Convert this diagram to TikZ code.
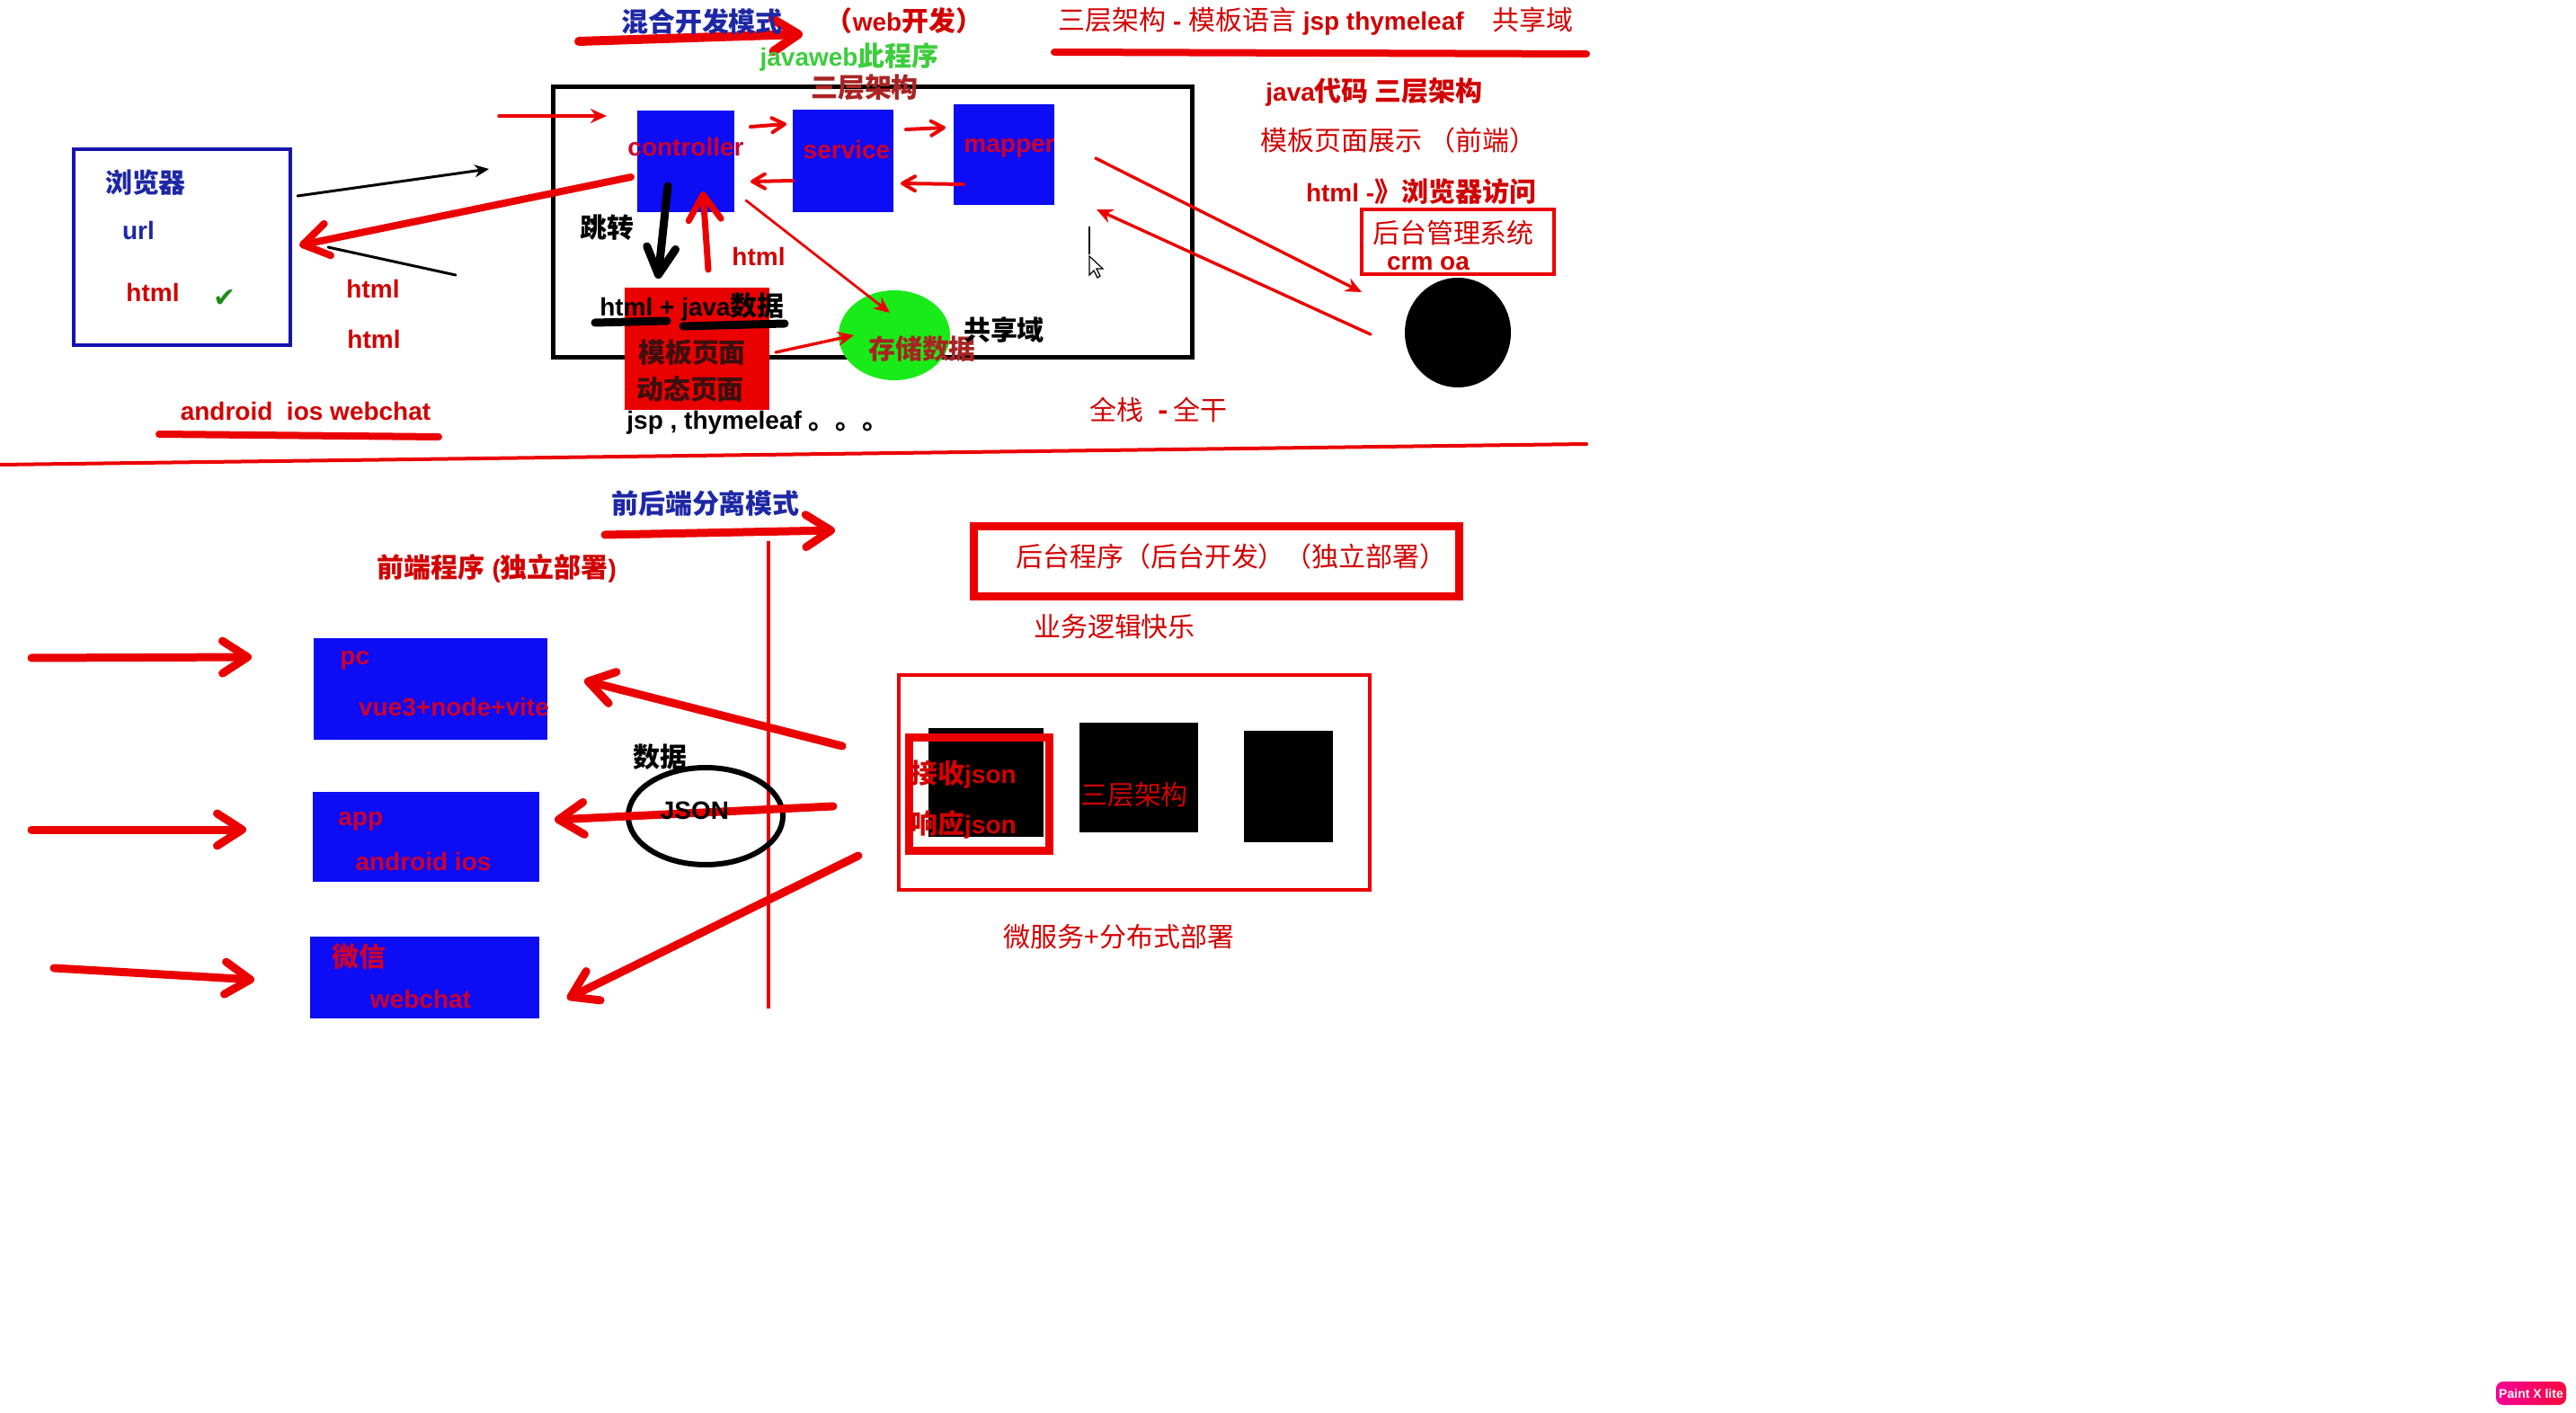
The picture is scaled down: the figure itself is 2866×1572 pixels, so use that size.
\documentclass[tikz,border=0pt]{standalone}
\usepackage{fontspec}
\setmainfont{Liberation Sans}
\newfontfamily\zh{Noto Sans CJK SC}[Scale=1.07]
\newfontfamily\symfont{DejaVu Sans}
\usetikzlibrary{arrows.meta, positioning, shapes.geometric, fit, calc}
\definecolor{penRed}{RGB}{235,0,0}
\definecolor{inkRed}{RGB}{210,0,0}
\definecolor{crimson}{RGB}{205,0,45}
\definecolor{rustRed}{RGB}{170,35,35}
\definecolor{paintBlue}{RGB}{12,12,245}
\definecolor{navyInk}{RGB}{30,40,165}
\definecolor{frameBlue}{RGB}{20,20,175}
\definecolor{limeFill}{RGB}{25,235,25}
\definecolor{leafInk}{RGB}{60,205,60}
\definecolor{tickGreen}{RGB}{30,140,30}
\definecolor{darkInk}{RGB}{60,15,15}
\definecolor{badgePink}{RGB}{245,0,150}
\definecolor{badgeRed}{RGB}{250,10,60}
\tikzset{
  hand/.style={line cap=round, line join=round},
  zhtext/.style={font=\zh\fontsize{14}{17}\selectfont, inner sep=0pt},
  zhbold/.style={font=\zh\bfseries\fontsize{14}{17}\selectfont, inner sep=0pt},
  entext/.style={font=\bfseries\fontsize{14}{17}\selectfont, inner sep=0pt},
  paintbox/.style={fill=paintBlue, inner sep=0pt},
  inkbox/.style={fill=black, inner sep=0pt},
  fatarrow/.style={hand, draw=penRed, line width=4.5pt, -{Straight Barb[length=14pt, width=18pt, round]}},
  midarrow/.style={hand, draw=penRed, line width=2pt, -{Straight Barb[length=7pt, width=8pt, round]}},
  thinarrow/.style={hand, draw=penRed, line width=1.7pt, -{Stealth[length=9pt, width=8pt]}},
}

\begin{document}
\begin{tikzpicture}[x=0.5pt, y=-0.5pt]
  \fill[white] (0,0) rectangle (2866,1572);
  \useasboundingbox (0,0) rectangle (2866,1572);

  \coordinate (divL) at (0,517);
  \coordinate (divR) at (1765,494);
  \draw[hand, penRed, line width=2pt] (divL) -- (divR);
  \coordinate (ulTitleL) at (1173,58);
  \coordinate (ulTitleR) at (1765,60);
  \draw[hand, penRed, line width=4pt] (ulTitleL) -- (ulTitleR);
  \coordinate (ulAndL) at (177,483);
  \coordinate (ulAndR) at (488,486);
  \draw[hand, penRed, line width=4pt] (ulAndL) -- (ulAndR);

  \node[draw=black, line width=2.5pt, inner sep=0pt, fit={(615,97) (1326,398)}] (mvcframe) {};
  \node[draw=frameBlue, line width=2pt, inner sep=0pt, fit={(82,166) (323,384)}] (browser) {};
  \node[paintbox, fit={(709,123) (817,236)}] (ctrl) {};
  \node[paintbox, fit={(882,122) (994,236)}] (svc) {};
  \node[paintbox, fit={(1061,116) (1173,228)}] (mapper) {};
  \node[fill=penRed, inner sep=0pt, fit={(695,320) (856,456)}] (tplpage) {};
  \node[ellipse, fill=limeFill, minimum width=62pt, minimum height=50pt, inner sep=0pt] (store) at (995,373) {};
  \node[ellipse, fill=black, minimum width=59pt, minimum height=61pt, inner sep=0pt] (dbdot) at (1622,370) {};
  \node[draw=penRed, line width=2pt, inner sep=0pt, fit={(1515,233) (1729,305)}] (mgmt) {};

  \coordinate (mixA) at (644,46);
  \coordinate (mixB) at (893,38);
  \draw[fatarrow, line width=5pt] (mixA) -- (mixB);
  \coordinate (reqA) at (331,218);
  \coordinate (reqB) at (544,188);
  \draw[hand, line width=1.5pt, -{Stealth[length=8pt, width=7pt]}] (reqA) -- (reqB);
  \coordinate (retA) at (365,275);
  \coordinate (retB) at (507,306);
  \draw[hand, line width=1.5pt] (retA) -- (retB);
  \coordinate (backA) at (702,197);
  \coordinate (backB) at (333,273);
  \draw[fatarrow, line width=4pt] (backA) -- (backB);
  \coordinate (inA) at (555,129);
  \coordinate (inB) at (675,129);
  \draw[thinarrow] (inA) -- (inB);

  \coordinate (cs1) at (835,141);
  \coordinate (cs2) at (875,138);
  \coordinate (sm1) at (1008,144);
  \coordinate (sm2) at (1052,142);
  \coordinate (sc1) at (882,201);
  \coordinate (sc2) at (835,202);
  \coordinate (ms1) at (1072,205);
  \coordinate (ms2) at (1002,204);
  \draw[midarrow] (cs1) -- (cs2);
  \draw[midarrow] (sm1) -- (sm2);
  \draw[midarrow] (sc1) -- (sc2);
  \draw[midarrow] (ms1) -- (ms2);

  \coordinate (jumpA) at (743,207);
  \coordinate (jumpB) at (732,310);
  \draw[hand, line width=4.5pt, -{Straight Barb[length=15pt, width=16pt, round]}] (jumpA) -- (jumpB);
  \coordinate (upA) at (788,300);
  \coordinate (upB) at (782,213);
  \draw[fatarrow, line width=3.5pt] (upA) -- (upB);
  \coordinate (saveA) at (830,223);
  \coordinate (saveB) at (990,348);
  \draw[thinarrow, line width=1.4pt] (saveA) -- (saveB);
  \coordinate (tplOut) at (863,392);
  \coordinate (storeIn) at (950,373);
  \draw[thinarrow] (tplOut) -- (storeIn);
  \coordinate (goA) at (1219,176);
  \coordinate (goB) at (1515,325);
  \draw[thinarrow] (goA) -- (goB);
  \coordinate (comeA) at (1525,372);
  \coordinate (comeB) at (1220,233);
  \draw[thinarrow] (comeA) -- (comeB);

  \draw[hand, line width=4.5pt] (662,359) -- (742,357);
  \draw[hand, line width=4.5pt] (760,363) -- (873,360);

  \draw[line width=0.8pt] (1212,252) -- (1212,283);
  \draw[fill=white, line width=0.6pt] (1212,285) -- (1212,306) -- (1217,301) -- (1221,309) -- (1224,307) -- (1220,299) -- (1227,299) -- cycle;

  \node[zhbold, text=navyInk] (mixTitle) at (781,24) {混合开发模式};
  \node[entext, text=inkRed] (webDev) at (1006,23) {{\zh （}web{\zh 开发）}};
  \node[entext, text=leafInk] (jwProg) at (945,63) {javaweb{\zh 此程序}};
  \node[zhbold, text=rustRed] (tierTop) at (962,97) {三层架构};
  \node[entext, text=inkRed] (tierTitle) at (1464,24) {{\zh\mdseries 三层架构} - {\zh\mdseries 模板语言} jsp thymeleaf\hspace{16pt}{\zh\mdseries 共享域}};
  \node[entext, text=inkRed] (javaCode) at (1529,103) {java{\zh 代码 三层架构}};
  \node[zhtext, text=inkRed] (tplShow) at (1556,156) {模板页面展示 （前端）};
  \node[entext, text=inkRed] (htmlVisit) at (1581,213) {html -{\zh 》浏览器访问}};
  \node[zhtext, text=inkRed] (mgmtName) at (1617,259) {后台管理系统};
  \node[entext, text=inkRed] (crmOa) at (1589,293) {crm oa};
  \node[zhtext, text=inkRed] (fullStack) at (1289,456) {全栈\hspace{8pt}{\bfseries -}\hspace{3pt}全干};

  \node[zhbold, text=navyInk] (browserName) at (162,203) {浏览器};
  \node[entext, text=navyInk] (urlTxt) at (154,256) {url};
  \node[entext, text=inkRed] (htmlIn) at (170,325) {html};
  \node[font=\symfont\fontsize{15}{18}\selectfont, text=tickGreen, inner sep=0pt] (tick) at (250,332) {✔};
  \node[entext, text=inkRed] (htmlA) at (415,321) {html};
  \node[entext, text=inkRed] (htmlB) at (416,377) {html};
  \node[entext, text=inkRed] (clients) at (340,457) {android\ \ ios webchat};

  \node[entext, text=crimson] (ctrlTxt) at (763,163) {controller};
  \node[entext, text=crimson] (svcTxt) at (942,166) {service};
  \node[entext, text=crimson] (mapperTxt) at (1123,165) {mapper};
  \node[zhbold, text=black] (jump) at (675,253) {跳转};
  \node[entext, text=inkRed] (htmlUp) at (844,285) {html};
  \node[entext, text=black] (mixData) at (770,342) {html + java{\zh 数据}};
  \node[zhbold, text=darkInk] (tplA) at (770,392) {模板页面};
  \node[zhbold, text=darkInk] (tplB) at (768,433) {动态页面};
  \node[entext, text=black, anchor=west] (engines) at (697,470) {jsp , thymeleaf {\zh 。。。}};
  \node[zhbold, text=rustRed] (storeTxt) at (1026,388) {存储数据};
  \node[zhbold, text=black] (shareTxt) at (1117,367) {共享域};

  \coordinate (sepA) at (673,595);
  \coordinate (sepB) at (929,590);
  \draw[fatarrow] (sepA) -- (sepB);
  \coordinate (wallTop) at (855,602);
  \coordinate (wallBot) at (855,1122);
  \draw[penRed, line width=2pt] (wallTop) -- (wallBot);

  \node[paintbox, fit={(349,710) (609,823)}] (pcBox) {};
  \node[paintbox, fit={(348,881) (600,981)}] (appBox) {};
  \node[paintbox, fit={(345,1042) (600,1133)}] (wxBox) {};
  \node[draw=penRed, line width=4.5pt, inner sep=0pt, fit={(1083,586) (1623,664)}] (backProg) {};
  \node[draw=penRed, line width=2pt, inner sep=0pt, fit={(1000,751) (1524,990)}] (msBox) {};
  \node[inkbox, fit={(1033,810) (1161,931)}] (blkA) {};
  \node[inkbox, fit={(1201,804) (1333,926)}] (blkB) {};
  \node[inkbox, fit={(1384,813) (1483,937)}] (blkC) {};
  \node[draw=penRed, line width=4.5pt, inner sep=0pt, fit={(1011,820) (1167,946)}] (jsonGate) {};
  \node[ellipse, draw=black, line width=3pt, minimum width=86pt, minimum height=54pt, inner sep=0pt] (jsonRing) at (785,908) {};

  \coordinate (pcIn) at (35,732);
  \coordinate (pcEnd) at (280,731);
  \coordinate (appIn) at (35,923);
  \coordinate (appEnd) at (274,923);
  \coordinate (wxIn) at (60,1077);
  \coordinate (wxEnd) at (283,1090);
  \draw[fatarrow] (pcIn) -- (pcEnd);
  \draw[fatarrow] (appIn) -- (appEnd);
  \draw[fatarrow] (wxIn) -- (wxEnd);
  \coordinate (pcFrom) at (937,830);
  \coordinate (pcTo) at (650,757);
  \coordinate (appFrom) at (927,897);
  \coordinate (appTo) at (617,912);
  \coordinate (wxFrom) at (955,952);
  \coordinate (wxTo) at (631,1111);
  \draw[fatarrow] (pcFrom) -- (pcTo);
  \draw[fatarrow] (appFrom) -- (appTo);
  \draw[fatarrow] (wxFrom) -- (wxTo);

  \node[zhbold, text=navyInk] (sepTitle) at (785,560) {前后端分离模式};
  \node[entext, text=inkRed] (frontProg) at (553,632) {{\zh 前端程序} ({\zh 独立部署})};
  \node[entext, text=crimson, anchor=west] (pcTxt) at (378,735) {pc};
  \node[entext, text=crimson] (pcStack) at (505,787) {vue3+node+vite};
  \node[entext, text=crimson, anchor=west] (appTxt) at (376,914) {app};
  \node[entext, text=crimson] (appStack) at (471,958) {android ios};
  \node[zhbold, text=crimson, anchor=west] (wxTxt) at (369,1064) {微信};
  \node[entext, text=crimson] (wxStack) at (468,1111) {webchat};
  \node[zhbold, text=black] (dataTxt) at (734,842) {数据};
  \node[entext, text=black] (jsonTxt) at (773,902) {JSON};

  \node[zhtext, text=inkRed] (backTxt) at (1370,619) {后台程序（后台开发）（独立部署）};
  \node[zhtext, text=inkRed] (bizTxt) at (1240,697) {业务逻辑快乐};
  \node[entext, text=inkRed] (recvTxt) at (1072,862) {{\zh 接收}json};
  \node[entext, text=inkRed] (respTxt) at (1072,917) {{\zh 响应}json};
  \node[zhtext, text=inkRed] (tierMid) at (1262,884) {三层架构};
  \node[zhtext, text=inkRed] (msTxt) at (1245,1042) {微服务+分布式部署};

  \node[rounded corners=4pt, left color=badgePink, right color=badgeRed, minimum width=39pt, minimum height=13pt, text=white, font=\bfseries\fontsize{7}{8}\selectfont, inner sep=0pt] (badge) at (2816,1550) {Paint X lite};
\end{tikzpicture}
\end{document}
